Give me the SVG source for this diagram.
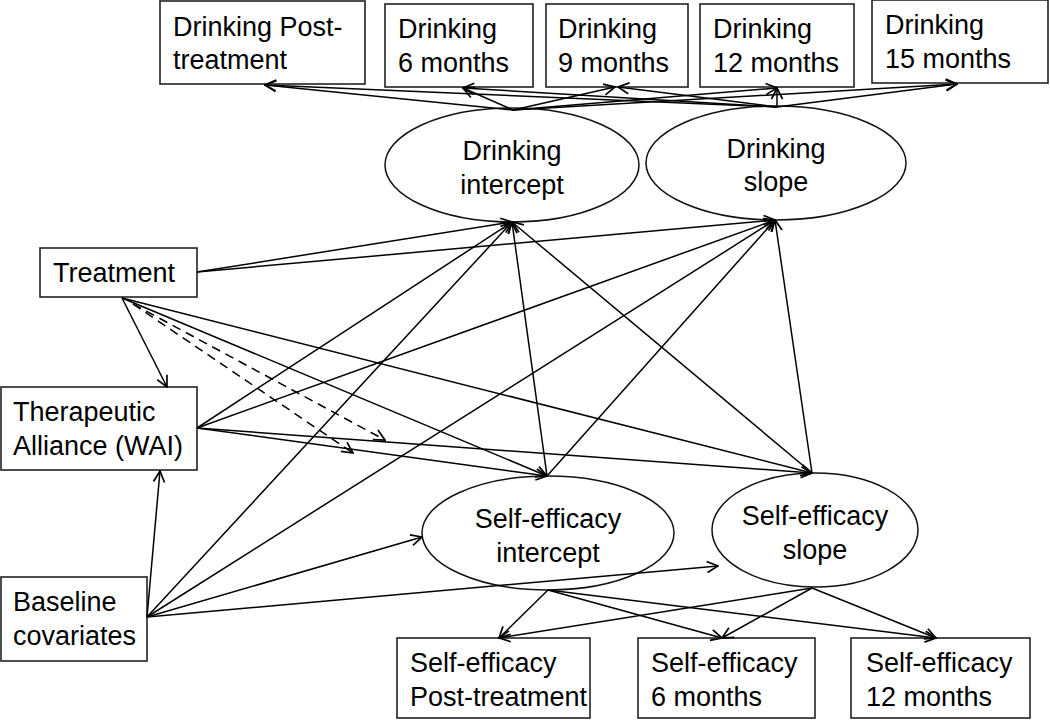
<svg xmlns="http://www.w3.org/2000/svg" width="1050" height="722" viewBox="0 0 1050 722">
<style>
.box{fill:#fff;stroke:#222;stroke-width:1.6}
.ell{fill:#fff;stroke:#111;stroke-width:1.5}
.t{font-family:"Liberation Sans",Arial,sans-serif;font-size:27px;fill:#000}
.c{text-anchor:middle}
.ln{stroke:#000;stroke-width:1.5;fill:none;marker-end:url(#ah)}
.dash{stroke-dasharray:9,6}
</style>
<defs>
<marker id="ah" viewBox="0 0 14 14" refX="13" refY="7" markerWidth="14" markerHeight="14" markerUnits="userSpaceOnUse" orient="auto">
<path d="M2,1.5 L13,7 L2,12.5" fill="none" stroke="#000" stroke-width="1.7"/>
</marker>
</defs>
<rect width="1050" height="722" fill="#fff"/>

<g id="drink_post">
<rect class="box" x="160" y="1" width="205" height="83"/>
<text class="t" x="173" y="36">Drinking Post-</text>
<text class="t" x="173" y="69">treatment</text>
</g>
<g id="drink_6">
<rect class="box" x="385" y="4" width="148" height="83"/>
<text class="t" x="398" y="38">Drinking</text>
<text class="t" x="398" y="72">6 months</text>
</g>
<g id="drink_9">
<rect class="box" x="546" y="4" width="142" height="83"/>
<text class="t" x="558" y="38">Drinking</text>
<text class="t" x="558" y="72">9 months</text>
</g>
<g id="drink_12">
<rect class="box" x="700" y="4" width="154" height="83"/>
<text class="t" x="713" y="38">Drinking</text>
<text class="t" x="713" y="72">12 months</text>
</g>
<g id="drink_15">
<rect class="box" x="872" y="0" width="176" height="83"/>
<text class="t" x="885" y="34">Drinking</text>
<text class="t" x="885" y="68">15 months</text>
</g>

<g id="drink_intercept">
<ellipse class="ell" cx="512" cy="165" rx="127" ry="57"/>
<text class="t c" x="512" y="160">Drinking</text>
<text class="t c" x="512" y="194">intercept</text>
</g>
<g id="drink_slope">
<ellipse class="ell" cx="776" cy="163" rx="130" ry="57"/>
<text class="t c" x="776" y="158">Drinking</text>
<text class="t c" x="776" y="191">slope</text>
</g>

<g id="treatment">
<rect class="box" x="40" y="248" width="157" height="49"/>
<text class="t" x="53" y="282">Treatment</text>
</g>
<g id="wai">
<rect class="box" x="1" y="387" width="196" height="83"/>
<text class="t" x="13" y="421">Therapeutic</text>
<text class="t" x="13" y="455">Alliance (WAI)</text>
</g>
<g id="baseline">
<rect class="box" x="1" y="577" width="146" height="84"/>
<text class="t" x="13" y="611">Baseline</text>
<text class="t" x="13" y="645">covariates</text>
</g>

<g id="se_intercept">
<ellipse class="ell" cx="548" cy="533" rx="126" ry="57"/>
<text class="t c" x="548" y="528">Self-efficacy</text>
<text class="t c" x="548" y="562">intercept</text>
</g>
<g id="se_slope">
<ellipse class="ell" cx="815" cy="530" rx="103" ry="57"/>
<text class="t c" x="815" y="525">Self-efficacy</text>
<text class="t c" x="815" y="559">slope</text>
</g>

<g id="se_post">
<rect class="box" x="397" y="638" width="193" height="80"/>
<text class="t" x="410" y="672">Self-efficacy</text>
<text class="t" x="410" y="706">Post-treatment</text>
</g>
<g id="se_6">
<rect class="box" x="638" y="638" width="177" height="80"/>
<text class="t" x="651" y="672">Self-efficacy</text>
<text class="t" x="651" y="706">6 months</text>
</g>
<g id="se_12">
<rect class="box" x="851" y="638" width="179" height="80"/>
<text class="t" x="866" y="672">Self-efficacy</text>
<text class="t" x="866" y="706">12 months</text>
</g>

<g id="connectors">
<line class="ln" x1="513" y1="110" x2="265" y2="85"/>
<line class="ln" x1="513" y1="110" x2="463" y2="88"/>
<line class="ln" x1="513" y1="110" x2="615" y2="87"/>
<line class="ln" x1="513" y1="110" x2="777" y2="88"/>
<line class="ln" x1="513" y1="110" x2="957" y2="84"/>
<line class="ln" x1="777" y1="107" x2="265" y2="85"/>
<line class="ln" x1="777" y1="107" x2="463" y2="88"/>
<line class="ln" x1="777" y1="107" x2="618" y2="87"/>
<line class="ln" x1="777" y1="107" x2="777" y2="88"/>
<line class="ln" x1="777" y1="107" x2="957" y2="84"/>
<line class="ln" x1="197" y1="272" x2="512" y2="222"/>
<line class="ln" x1="197" y1="272" x2="775" y2="220"/>
<line class="ln" x1="122" y1="298" x2="167" y2="387"/>
<line class="ln" x1="122" y1="298" x2="547" y2="476"/>
<line class="ln" x1="122" y1="298" x2="812" y2="473"/>
<line class="ln dash" x1="133" y1="304" x2="385" y2="440"/>
<line class="ln dash" x1="133" y1="304" x2="353" y2="453"/>
<line class="ln" x1="197" y1="428" x2="512" y2="222"/>
<line class="ln" x1="197" y1="428" x2="775" y2="220"/>
<line class="ln" x1="197" y1="428" x2="547" y2="476"/>
<line class="ln" x1="197" y1="428" x2="812" y2="473"/>
<line class="ln" x1="147" y1="617" x2="160" y2="471"/>
<line class="ln" x1="147" y1="617" x2="512" y2="222"/>
<line class="ln" x1="147" y1="617" x2="775" y2="220"/>
<line class="ln" x1="147" y1="617" x2="422" y2="537"/>
<line class="ln" x1="147" y1="617" x2="718" y2="566"/>
<line class="ln" x1="547" y1="476" x2="512" y2="222"/>
<line class="ln" x1="547" y1="476" x2="775" y2="220"/>
<line class="ln" x1="812" y1="473" x2="512" y2="222"/>
<line class="ln" x1="812" y1="473" x2="775" y2="220"/>
<line class="ln" x1="548" y1="590" x2="499" y2="638"/>
<line class="ln" x1="548" y1="590" x2="722" y2="638"/>
<line class="ln" x1="548" y1="590" x2="936" y2="638"/>
<line class="ln" x1="812" y1="588" x2="499" y2="638"/>
<line class="ln" x1="812" y1="588" x2="722" y2="638"/>
<line class="ln" x1="812" y1="588" x2="936" y2="638"/>
</g>
</svg>
